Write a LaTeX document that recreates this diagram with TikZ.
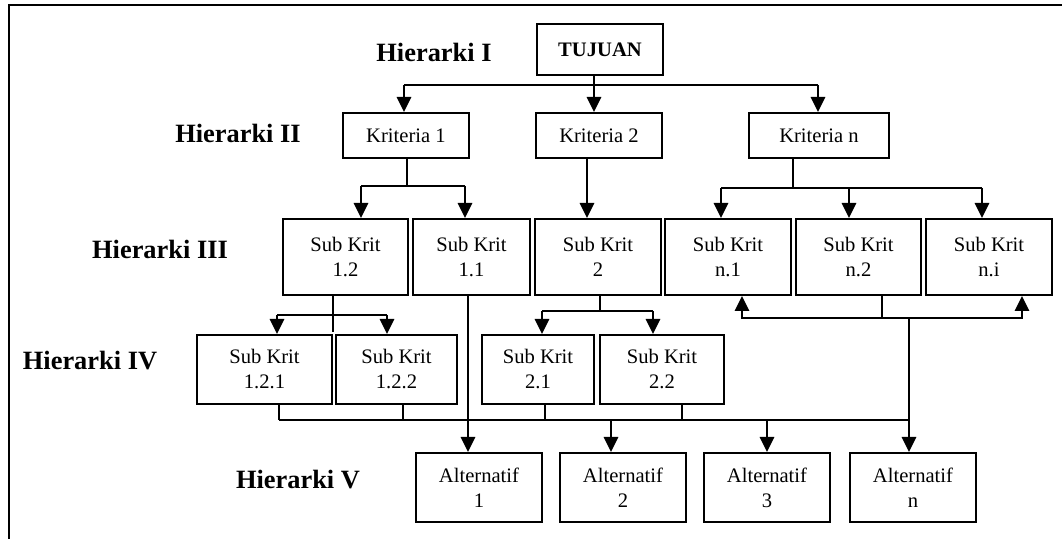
\documentclass[tikz,border=0pt]{standalone}
\usepackage{fontspec}
\setmainfont{Liberation Serif}
\usetikzlibrary{arrows.meta}

\begin{document}
\begin{tikzpicture}[x=0.5pt,y=-0.5pt,
  kotak/.style 2 args={draw,line width=1pt,align=center,inner sep=0pt,
    minimum width=#1*0.5pt,minimum height=#2*0.5pt,font=\fontsize{10.3}{12.5}\selectfont},
  level/.style={font=\fontsize{13.2}{15}\selectfont\bfseries},
  garis/.style={line width=1pt},
  panah/.style={line width=1.4pt,-{Triangle[length=7.5pt,width=7pt]}}]

\useasboundingbox (0,0) rectangle (1062,539);
\draw[garis] (9,539)--(9,5)--(1062,5);

% label hierarki
\node[level] (h1) at (434,52) {Hierarki I};
\node[level] (h2) at (238,133) {Hierarki II};
\node[level] (h3) at (160,249) {Hierarki III};
\node[level] (h4) at (90,361) {Hierarki IV};
\node[level] (h5) at (298,480) {Hierarki V};

% kotak
\node[kotak={126}{51},font=\fontsize{10.3}{12.5}\selectfont\bfseries] (tujuan) at (600,50) {TUJUAN};
\node[kotak={126}{45}] (k1) at (406,135.5) {Kriteria 1};
\node[kotak={126}{45}] (k2) at (599,135.5) {Kriteria 2};
\node[kotak={140}{45}] (kn) at (819,135.5) {Kriteria n};

\node[kotak={125}{76}] (s12) at (345.5,257) {Sub Krit\\1.2};
\node[kotak={117}{76}] (s11) at (471.5,257) {Sub Krit\\1.1};
\node[kotak={126}{76}] (s2) at (598,257) {Sub Krit\\2};
\node[kotak={126}{76}] (sn1) at (728,257) {Sub Krit\\n.1};
\node[kotak={125}{76}] (sn2) at (858.5,257) {Sub Krit\\n.2};
\node[kotak={126}{76}] (sni) at (989,257) {Sub Krit\\n.i};

\node[kotak={135}{69}] (s121) at (264.5,369.5) {Sub Krit\\1.2.1};
\node[kotak={121}{69}] (s122) at (396.5,369.5) {Sub Krit\\1.2.2};
\node[kotak={112}{69}] (s21) at (538,369.5) {Sub Krit\\2.1};
\node[kotak={124}{69}] (s22) at (662,369.5) {Sub Krit\\2.2};

\node[kotak={126}{69}] (a1) at (479,487.5) {Alternatif\\1};
\node[kotak={126}{69}] (a2) at (623,487.5) {Alternatif\\2};
\node[kotak={126}{69}] (a3) at (767,487.5) {Alternatif\\3};
\node[kotak={126}{69}] (an) at (913,487.5) {Alternatif\\n};

% titik cabang
\coordinate (jA) at (404,85);  \coordinate (jT) at (594,85);  \coordinate (jB) at (818,85);
\coordinate (p1) at (407,186); \coordinate (p11) at (361,186); \coordinate (p12) at (465,186);
\coordinate (q1) at (587,186);
\coordinate (r1) at (793,188); \coordinate (r11) at (721,188); \coordinate (r12) at (849,188); \coordinate (r13) at (982,188);
\coordinate (t1) at (333,315); \coordinate (t2) at (333,332); \coordinate (t11) at (277,315); \coordinate (t12) at (387,315);
\coordinate (u1) at (600,311); \coordinate (u11) at (542,311); \coordinate (u12) at (653,311);
\coordinate (v1) at (468,420);
\coordinate (w1) at (909,318); \coordinate (w2) at (882,318); \coordinate (w11) at (742,318); \coordinate (w12) at (1022,318);
\coordinate (x1) at (279,420); \coordinate (x2) at (403,420); \coordinate (x3) at (545,420); \coordinate (x4) at (682,420);
\coordinate (y2) at (611,420); \coordinate (y3) at (767,420);

% hierarki I - II
\draw[garis] (jA) -- (jB);
\draw[panah] (jA) -- (jA |- k1.north);
\draw[panah] (jB) -- (jB |- kn.north);
\draw[panah] (tujuan.south -| jT) -- (jT |- k2.north);

% hierarki II - III
\draw[garis] (k1.south -| p1) -- (p1);
\draw[garis] (p11) -- (p12);
\draw[panah] (p11) -- (p11 |- s12.north);
\draw[panah] (p12) -- (p12 |- s11.north);
\draw[panah] (k2.south -| q1) -- (q1 |- s2.north);
\draw[garis] (kn.south -| r1) -- (r1);
\draw[garis] (r11) -- (r13);
\foreach \c/\n in {r11/sn1,r12/sn2,r13/sni}
  \draw[panah] (\c) -- (\c |- \n.north);

% hierarki III - IV
\draw[garis] (s12.south -| t1) -- (t2);
\draw[garis] (t11) -- (t12);
\draw[panah] (t11) -- (t11 |- s121.north);
\draw[panah] (t12) -- (t12 |- s122.north);
\draw[garis] (s2.south -| u1) -- (u1);
\draw[garis] (u11) -- (u12);
\draw[panah] (u11) -- (u11 |- s21.north);
\draw[panah] (u12) -- (u12 |- s22.north);
\draw[garis] (sn2.south -| w2) -- (w2);
\draw[panah] (w1) -| (sn1.south -| w11);
\draw[panah] (w1) -| (sni.south -| w12);

% hierarki IV - V
\foreach \c/\n in {x1/s121,x2/s122,x3/s21,x4/s22}
  \draw[garis] (\n.south -| \c) -- (\c);
\draw[garis] (x1) -- (x1 -| w1);
\draw[panah] (s11.south -| v1) -- (v1 |- a1.north);
\draw[panah] (y2) -- (y2 |- a2.north);
\draw[panah] (y3) -- (y3 |- a3.north);
\draw[panah] (w1) -- (w1 |- an.north);

\end{tikzpicture}
\end{document}
